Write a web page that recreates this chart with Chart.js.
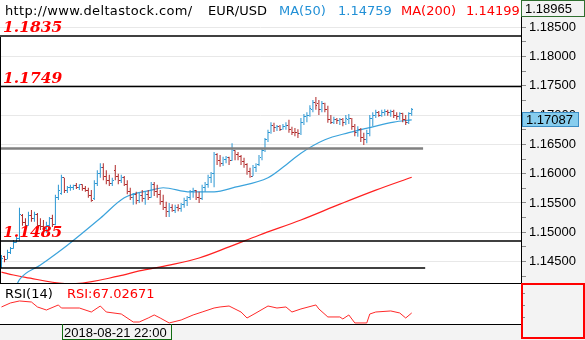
<!DOCTYPE html>
<html>
<head>
<meta charset="utf-8">
<script src="https://cdn.jsdelivr.net/npm/chart.js@4.4.1/dist/chart.umd.min.js"></script>
<style>
  body { margin: 0; background: #f3f3f3; }
  #wrap { position: relative; width: 585px; height: 340px; background: #f3f3f3; overflow: hidden; }
  canvas { position: absolute; left: 0; }
  .t { position: absolute; white-space: nowrap; line-height: normal; }
  .hdr { font: 13px "DejaVu Sans", sans-serif; }
  .ax { font: 13px "Liberation Sans", Arial, sans-serif; color: #000; }
  .lvl { font: italic bold 15.5px "DejaVu Serif", serif; color: #ff0000; }
  .box { position: absolute; box-sizing: border-box; }
</style>
</head>
<body>
<div id="wrap">
  <canvas id="main" width="585" height="283" style="top:0"></canvas>
  <canvas id="rsi" width="585" height="40" style="top:284px"></canvas>

  <!-- рамки и разделители -->
  <div class="box" style="left:0;top:37px;width:1px;height:246px;background:#000"></div>
  <div class="box" style="left:0;top:283px;width:521px;height:1px;background:#000"></div>
  <div class="box" style="left:0;top:324px;width:521px;height:1px;background:#000"></div>
  <div class="box" style="left:521px;top:283px;width:64px;height:56px;border:2px solid #ff0000"></div>
  <div class="box" style="left:521px;top:0;width:64px;height:17px;border:1px solid #2f6f2f;background:#f3f3f3"></div>
  <div class="box" style="left:522px;top:112px;width:57px;height:15px;border:1px solid #3a8cc4;background:#87cdee"></div>
  <div class="box" style="left:62px;top:324px;width:110px;height:16px;border:1px solid #106c10;border-top:none"></div>

  <!-- подписи -->
  <div class="t hdr" style="left:5px;top:3px;color:#000;letter-spacing:0.35px">http://www.deltastock.com/</div>
  <div class="t hdr" style="left:208px;top:3px;color:#000">EUR/USD</div>
  <div class="t hdr" style="left:279px;top:3px;color:#2290d6">MA(50)</div>
  <div class="t hdr" style="left:338px;top:3px;color:#2290d6">1.14759</div>
  <div class="t hdr" style="left:401px;top:3px;color:#ff0000">MA(200)</div>
  <div class="t hdr" style="left:466px;top:3px;color:#ff0000">1.14199</div>

  <div class="t lvl" style="left:3px;top:17px">1.1835</div>
  <div class="t lvl" style="left:3px;top:68px">1.1749</div>
  <div class="t lvl" style="left:3px;top:222px">1.1485</div>

  <div class="t ax" style="left:525px;top:1px">1.18965</div>
  <div class="t ax" style="left:526px;top:112px">1.17087</div>

  <div class="t hdr" style="left:5px;top:286px;color:#000">RSI(14)</div>
  <div class="t hdr" style="left:67px;top:286px;color:#ff0000">RSI:67.02671</div>
  <div class="t ax" style="left:64px;top:325px">2018-08-21 22:00</div>
</div>

<script>
// Бары EUR/USD (O/H/L/C)
const openPx = [
  1.1442,1.1458,1.1454,1.1465,1.1473,1.1483,1.1489,1.1528,1.1516,1.1512,
  1.1528,1.1524,1.1531,1.1512,1.1509,1.1506,1.1511,1.1523,1.1514,1.1559,
  1.1567,1.1593,1.1571,1.1576,1.1577,1.1579,1.1576,1.1581,1.1574,1.1572,
  1.1562,1.1557,1.1584,1.1601,1.1610,1.1596,1.1589,1.1584,1.1606,1.1596,
  1.1588,1.1594,1.1582,1.1569,1.1560,1.1564,1.1555,1.1562,1.1557,1.1564,
  1.1560,1.1581,1.1569,1.1564,1.1552,1.1543,1.1535,1.1543,1.1538,1.1543,
  1.1540,1.1547,1.1555,1.1559,1.1569,1.1572,1.1560,1.1557,1.1576,1.1582,
  1.1593,1.1600,1.1632,1.1623,1.1618,1.1625,1.1627,1.1623,1.1640,1.1632,
  1.1629,1.1620,1.1615,1.1603,1.1596,1.1610,1.1615,1.1627,1.1640,1.1658,
  1.1671,1.1683,1.1678,1.1680,1.1676,1.1680,1.1683,1.1675,1.1671,1.1670,
  1.1668,1.1688,1.1697,1.1700,1.1709,1.1722,1.1719,1.1709,1.1719,1.1710,
  1.1692,1.1688,1.1693,1.1690,1.1692,1.1687,1.1692,1.1695,1.1680,1.1670,
  1.1676,1.1661,1.1658,1.1668,1.1695,1.1700,1.1704,1.1700,1.1705,1.1707,
  1.1704,1.1707,1.1700,1.1697,1.1702,1.1693,1.1688,1.1702
];
const highPx = [
  1.1461,1.1460,1.1470,1.1475,1.1487,1.1492,1.1542,1.1531,1.1524,1.1535,
  1.1538,1.1535,1.1533,1.1524,1.1521,1.1518,1.1526,1.1530,1.1564,1.1581,
  1.1598,1.1593,1.1579,1.1581,1.1581,1.1584,1.1582,1.1582,1.1579,1.1576,
  1.1572,1.1589,1.1606,1.1618,1.1618,1.1606,1.1598,1.1593,1.1615,1.1600,
  1.1598,1.1596,1.1589,1.1576,1.1567,1.1569,1.1567,1.1572,1.1569,1.1572,
  1.1586,1.1586,1.1581,1.1572,1.1564,1.1552,1.1550,1.1548,1.1547,1.1548,
  1.1550,1.1559,1.1562,1.1572,1.1576,1.1572,1.1569,1.1581,1.1586,1.1598,
  1.1603,1.1637,1.1635,1.1632,1.1629,1.1630,1.1629,1.1652,1.1640,1.1637,
  1.1632,1.1627,1.1618,1.1610,1.1615,1.1618,1.1632,1.1644,1.1661,1.1675,
  1.1688,1.1687,1.1683,1.1683,1.1685,1.1688,1.1692,1.1680,1.1678,1.1676,
  1.1695,1.1702,1.1705,1.1717,1.1726,1.1731,1.1726,1.1724,1.1721,1.1716,
  1.1700,1.1697,1.1695,1.1695,1.1695,1.1700,1.1702,1.1695,1.1685,1.1681,
  1.1678,1.1670,1.1675,1.1700,1.1705,1.1709,1.1707,1.1709,1.1710,1.1709,
  1.1709,1.1709,1.1705,1.1705,1.1704,1.1700,1.1705,1.1712
];
const lowPx = [
  1.1439,1.1449,1.1454,1.1463,1.1472,1.1482,1.1485,1.1511,1.1507,1.1511,
  1.1518,1.1518,1.1507,1.1504,1.1501,1.1499,1.1504,1.1509,1.1512,1.1555,
  1.1564,1.1567,1.1567,1.1571,1.1572,1.1574,1.1572,1.1571,1.1569,1.1559,
  1.1552,1.1555,1.1579,1.1593,1.1589,1.1582,1.1579,1.1579,1.1589,1.1582,
  1.1584,1.1579,1.1565,1.1555,1.1547,1.1548,1.1550,1.1552,1.1547,1.1555,
  1.1559,1.1562,1.1559,1.1547,1.1538,1.1526,1.1526,1.1535,1.1533,1.1536,
  1.1535,1.1542,1.1545,1.1555,1.1559,1.1555,1.1550,1.1555,1.1569,1.1576,
  1.1584,1.1577,1.1615,1.1612,1.1613,1.1618,1.1615,1.1622,1.1623,1.1623,
  1.1615,1.1610,1.1598,1.1593,1.1596,1.1603,1.1613,1.1623,1.1637,1.1654,
  1.1668,1.1671,1.1673,1.1673,1.1675,1.1675,1.1670,1.1666,1.1664,1.1661,
  1.1666,1.1683,1.1688,1.1697,1.1705,1.1709,1.1700,1.1705,1.1705,1.1687,
  1.1685,1.1685,1.1685,1.1683,1.1681,1.1683,1.1685,1.1675,1.1664,1.1663,
  1.1654,1.1649,1.1652,1.1664,1.1681,1.1695,1.1697,1.1697,1.1699,1.1699,
  1.1697,1.1695,1.1692,1.1692,1.1688,1.1683,1.1685,1.1699
];
const closePx = [
  1.1456,1.1453,1.1466,1.1473,1.1483,1.1489,1.1530,1.1516,1.1512,1.1528,
  1.1524,1.1531,1.1512,1.1509,1.1506,1.1511,1.1523,1.1514,1.1559,1.1572,
  1.1593,1.1571,1.1576,1.1577,1.1579,1.1576,1.1581,1.1574,1.1572,1.1562,
  1.1555,1.1584,1.1601,1.1610,1.1596,1.1589,1.1584,1.1589,1.1596,1.1588,
  1.1594,1.1582,1.1569,1.1560,1.1564,1.1555,1.1562,1.1557,1.1564,1.1560,
  1.1581,1.1569,1.1564,1.1552,1.1543,1.1535,1.1543,1.1538,1.1543,1.1540,
  1.1547,1.1555,1.1559,1.1569,1.1572,1.1560,1.1557,1.1576,1.1582,1.1593,
  1.1600,1.1632,1.1623,1.1618,1.1625,1.1627,1.1623,1.1640,1.1632,1.1629,
  1.1620,1.1615,1.1603,1.1596,1.1610,1.1615,1.1627,1.1640,1.1658,1.1671,
  1.1683,1.1678,1.1680,1.1676,1.1680,1.1683,1.1675,1.1671,1.1670,1.1668,
  1.1688,1.1697,1.1700,1.1712,1.1722,1.1716,1.1709,1.1719,1.1710,1.1692,
  1.1688,1.1693,1.1690,1.1692,1.1687,1.1695,1.1695,1.1680,1.1670,1.1676,
  1.1661,1.1658,1.1668,1.1695,1.1700,1.1704,1.1700,1.1705,1.1707,1.1704,
  1.1707,1.1700,1.1697,1.1702,1.1693,1.1688,1.1702,1.1709
];

// Скользящие средние (номер бара -> значение)
const ma50Bars = [4, 6, 13, 22, 33, 41, 50, 54, 63, 71, 78, 89, 95, 100, 108, 116, 124, 131, 137];
const ma50Vals = [1.1398, 1.1419, 1.1444, 1.1478, 1.1524, 1.1559, 1.1572, 1.1576, 1.1569, 1.1569,
                  1.1577, 1.1593, 1.1615, 1.1635, 1.1658, 1.1670, 1.1680, 1.1688, 1.1692];
const ma200Bars = [0, 4, 8, 23, 39, 46, 56, 66, 76, 86, 100, 113, 125, 137];
const ma200Vals = [1.1432, 1.1427, 1.1423, 1.1412, 1.1425, 1.1434, 1.1444, 1.1456, 1.1475, 1.1495,
                   1.1521, 1.1548, 1.1572, 1.1594];

// RSI(14)
const rsiBars = [0, 3, 6, 10, 12, 15, 19, 20, 26, 30, 33, 35, 40, 44, 46, 49, 51, 53, 56, 60,
                 64, 67, 71, 73, 76, 80, 82, 85, 89, 92, 95, 97, 100, 105, 106, 109, 113, 114, 116, 118,
                 122, 123, 125, 130, 133, 135, 137];
const rsiVals = [51.3, 56.3, 58.8, 57.5, 51.3, 47.5, 53.8, 50, 50, 45, 52.5, 45, 42.5, 32.5, 32.5, 37.5, 41.3, 37.5, 31.3, 35,
                 41.3, 45, 50, 51.3, 52.5, 45, 37.5, 43.8, 52.5, 50, 51.3, 45, 48.8, 53.8, 48.8, 38.8, 38.8, 36.3, 41.3, 31.3,
                 31.3, 42.5, 45, 46.3, 43.8, 37.5, 43.8];

// Горизонтальные уровни: значение, бар конца, цвет
const levelVals = [1.1835, 1.1749, 1.1643, 1.1485, 1.1439];
const levelEnds = [173.5, 173.5, 140.8, 173.5, 141.5];
const levelColors = ['#000000', '#000000', '#808080', '#000000', '#000000'];
const levelWidths = [1.5, 1.5, 2.5, 1.5, 1.5];

// Шкала цены
const majorTicks = [1.185, 1.18, 1.175, 1.17, 1.165, 1.16, 1.155, 1.15, 1.145];
const minorTicks = [1.1875, 1.1825, 1.1775, 1.1725, 1.1675, 1.1625, 1.1575, 1.1525, 1.1475, 1.1425];
const rsiTicks = [68.75, 53.75, 38.75];

const UP = '#2a96d2';
const DOWN = '#b02828';
const SLOTS = 174;

function isUp(i) { return closePx[i] >= openPx[i]; }

// маленькие картинки для засечек open/close
function tickImg(color, left) {
  const c = document.createElement('canvas');
  c.width = 3; c.height = 1;
  const g = c.getContext('2d');
  g.fillStyle = color;
  g.fillRect(left ? 0 : 2, 0, 1, 1);
  return c;
}
const openUp = tickImg(UP, true), openDn = tickImg(DOWN, true);
const closeUp = tickImg(UP, false), closeDn = tickImg(DOWN, false);

// белый фон области графика + без сглаживания картинок
const areaBg = {
  id: 'areaBg',
  beforeDraw(chart) {
    const { ctx, chartArea: a } = chart;
    ctx.save();
    ctx.fillStyle = '#ffffff';
    ctx.fillRect(a.left, a.top, a.right - a.left, a.bottom - a.top);
    ctx.restore();
    ctx.imageSmoothingEnabled = false;
  }
};

// шкала справа: фиксированная ширина, без отступов сверху/снизу
function fitRight(s) {
  s.width = 64;
  s.paddingTop = 0;
  s.paddingBottom = 0;
}

const datasets = [];

levelVals.forEach((v, k) => {
  datasets.push({
    type: 'line',
    data: [{ x: -0.5, y: v }, { x: levelEnds[k], y: v }],
    borderColor: levelColors[k],
    borderWidth: levelWidths[k],
    pointRadius: 0,
    order: 1
  });
});

datasets.push({
  type: 'bar',
  data: highPx.map((h, i) => ({ x: i, y: [lowPx[i], h] })),
  backgroundColor: ctx => isUp(ctx.dataIndex) ? UP : DOWN,
  barThickness: 1,
  borderWidth: 0,
  inflateAmount: 0,
  order: 2
});

datasets.push({
  type: 'line',
  data: openPx.map((v, i) => ({ x: i, y: v })),
  showLine: false,
  pointRadius: 1,
  pointStyle: ctx => isUp(ctx.dataIndex) ? openUp : openDn,
  order: 2
});

datasets.push({
  type: 'line',
  data: closePx.map((v, i) => ({ x: i, y: v })),
  showLine: false,
  pointRadius: 1,
  pointStyle: ctx => isUp(ctx.dataIndex) ? closeUp : closeDn,
  order: 2
});

datasets.push({
  type: 'line',
  data: ma50Bars.map((b, k) => ({ x: b, y: ma50Vals[k] })),
  borderColor: '#3ba3dc',
  borderWidth: 1.2,
  pointRadius: 0,
  cubicInterpolationMode: 'monotone',
  order: 3
});

datasets.push({
  type: 'line',
  data: ma200Bars.map((b, k) => ({ x: b, y: ma200Vals[k] })),
  borderColor: '#ff2020',
  borderWidth: 1.2,
  pointRadius: 0,
  cubicInterpolationMode: 'monotone',
  order: 3
});

function isMajor(v) {
  return majorTicks.some(m => Math.abs(m - v) < 1e-7);
}

new Chart(document.getElementById('main'), {
  type: 'bar',
  data: { datasets: datasets },
  options: {
    responsive: false,
    animation: false,
    devicePixelRatio: 1,
    layout: { padding: 0, autoPadding: false },
    plugins: { legend: { display: false }, tooltip: { enabled: false } },
    scales: {
      x: { type: 'linear', offset: false, min: -0.5, max: SLOTS - 0.5, display: false },
      y: {
        position: 'right',
        min: 1.14134,
        max: 1.18965,
        afterFit: fitRight,
        afterBuildTicks(s) {
          s.ticks = majorTicks.concat(minorTicks).sort((a, b) => b - a).map(v => ({ value: v }));
        },
        ticks: {
          autoSkip: false,
          padding: 3,
          color: '#000',
          font: { family: 'Liberation Sans', size: 13, lineHeight: 0.01 },
          callback: v => isMajor(v) ? v.toFixed(5) : ''
        },
        grid: {
          tickLength: 5,
          color: ctx => (ctx.tick && isMajor(ctx.tick.value)) ? '#e8e8e8' : 'rgba(0,0,0,0)',
          tickColor: '#8a8a8a'
        },
        border: { color: '#000', width: 1 }
      }
    }
  },
  plugins: [areaBg]
});

// нижняя панель RSI
new Chart(document.getElementById('rsi'), {
  type: 'line',
  data: {
    datasets: [{
      data: rsiBars.map((b, k) => ({ x: b, y: rsiVals[k] })),
      borderColor: '#ff2a2a',
      borderWidth: 1,
      pointRadius: 0
    }]
  },
  options: {
    responsive: false,
    animation: false,
    devicePixelRatio: 1,
    layout: { padding: 0, autoPadding: false },
    plugins: { legend: { display: false }, tooltip: { enabled: false } },
    scales: {
      x: { type: 'linear', min: -0.5, max: SLOTS - 0.5, display: false },
      y: {
        position: 'right',
        min: 30,
        max: 80,
        afterFit: fitRight,
        afterBuildTicks(s) { s.ticks = rsiTicks.map(v => ({ value: v })); },
        ticks: { autoSkip: false, padding: 0, font: { lineHeight: 0.01 }, callback: () => '' },
        grid: { drawOnChartArea: false, tickLength: 4, tickColor: '#8a8a8a' },
        border: { color: '#000', width: 1 }
      }
    }
  },
  plugins: [areaBg]
});
</script>
</body>
</html>
